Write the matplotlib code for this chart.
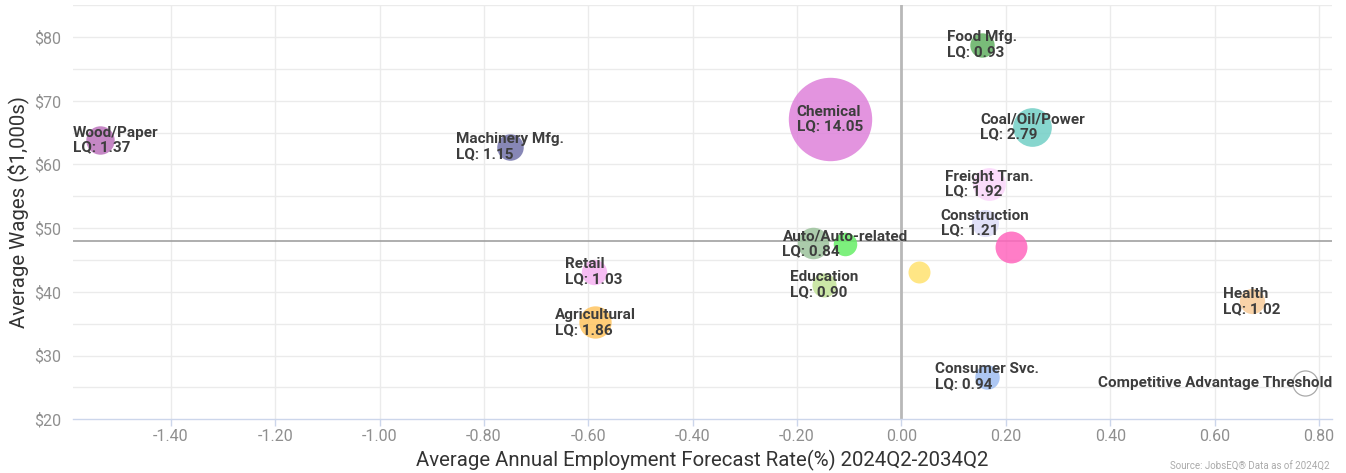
import matplotlib
matplotlib.use("Agg")
import matplotlib.pyplot as plt
import numpy as np

# ---------------- data ----------------
industries = ["Wood/Paper", "Machinery Mfg.", "Chemical", "Food Mfg.", "Coal/Oil/Power",
              "Freight Tran.", "Construction", "", "", "", "Auto/Auto-related",
              "Education", "Retail", "Agricultural", "Health", "Consumer Svc.",
              "Competitive Advantage Threshold"]
growth = [-1.535, -0.751, -0.137, 0.154, 0.251, 0.168, 0.160, 0.209, 0.033, -0.169,
          -0.108, -0.148, -0.590, -0.587, 0.672, 0.163, 0.773]
wages = [63.8, 62.8, 67.1, 78.8, 65.9, 56.9, 50.8, 47.1, 43.1, 47.6,
         47.5, 41.1, 43.2, 35.2, 38.5, 26.7, 25.65]
lq = [1.37, 1.15, 14.05, 0.93, 2.79, 1.92, 1.21, 1.80, 0.70, 1.75,
      0.84, 0.90, 1.03, 1.86, 1.02, 0.94, 1.00]
colors = ["#bb72bb", "#7272aa", "#de82da", "#62b062", "#72cfc6",
          "#fbd6fb", "#dcdcf7", "#ff66bd", "#ffe270", "#9cc29c",
          "#66ee66", "#c3e398", "#f6b2f2", "#ffc561", "#f9cc99", "#9fbef2",
          "#ffffff"]
wage_ref = 48.0
x_ticks = [-1.40, -1.20, -1.00, -0.80, -0.60, -0.40, -0.20, 0.00, 0.20, 0.40, 0.60, 0.80]
y_ticks = [20, 30, 40, 50, 60, 70, 80]

# ---------------- figure ----------------
plt.rcParams['font.family'] = ['Roboto', 'DejaVu Sans']
DPI = 100
fig = plt.figure(figsize=(13.46, 4.73), dpi=DPI)
ax = fig.add_axes([0.054, 0.1135, 0.9356, 0.8755])

ax.set_xlim(-1.588, 0.825)
ax.set_ylim(20, 85)

# grid
for yv in np.arange(25, 86, 5):
    ax.axhline(yv, color="#ebebeb", lw=1.0, zorder=0)
for xv in x_ticks:
    ax.axvline(xv, color="#ebebeb", lw=1.0, zorder=0)

# reference lines
ax.axhline(wage_ref, color="#999999", lw=1.1, zorder=1)
ax.axvline(0, color="#b8b8b8", lw=2.0, zorder=1)

# bubble sizes (area-based scaling, like Highcharts)
z = np.array(lq)
zmin, zmax = z.min(), z.max()
rmin, rmax = 11.0, 41.7  # pixels
pos = (z - zmin) / (zmax - zmin)
r_px = np.sqrt(rmin**2 + pos * (rmax**2 - rmin**2))
sizes = (2 * r_px * 72.0 / DPI) ** 2

for i in range(len(growth)):
    if industries[i] == "Competitive Advantage Threshold":
        ax.scatter(growth[i], wages[i], s=sizes[i], facecolor="white",
                   edgecolor="#aaaaaa", linewidth=0.9, zorder=3)
    else:
        ax.scatter(growth[i], wages[i], s=sizes[i], color=colors[i],
                   alpha=0.85, linewidth=0, zorder=3)

texts = []
for i in range(len(growth)):
    if not industries[i]:
        continue
    if industries[i] == "Competitive Advantage Threshold":
        lab = industries[i]
    else:
        lab = f"{industries[i]}\nLQ: {lq[i]:.2f}"
    t = ax.text(growth[i], wages[i], lab, ha="center", va="center",
                multialignment="left",
                fontsize=11, fontweight="bold", color="#3d3d3d",
                linespacing=1.08, zorder=5)
    texts.append(t)

# axes styling
for sp in ["top", "right", "left"]:
    ax.spines[sp].set_visible(False)
ax.spines["bottom"].set_color("#ccd6eb")
ax.spines["bottom"].set_linewidth(1.0)

ax.set_xticks(x_ticks)
ax.set_xticklabels([f"{v:.2f}" for v in x_ticks])
ax.set_yticks(y_ticks)
ax.set_yticklabels([f"${v}" for v in y_ticks])
ax.tick_params(axis="x", colors="#ccd6eb", length=5, width=1, labelsize=11.5,
               labelcolor="#8f8f8f", pad=2)
ax.tick_params(axis="y", length=0, labelsize=11.5, labelcolor="#8f8f8f", pad=8)

ax.set_xlabel("Average Annual Employment Forecast Rate(%) 2024Q2-2034Q2",
              fontsize=14.7, color="#333333", labelpad=4)
ax.set_ylabel("Average Wages ($1,000s)", fontsize=14.7, color="#333333", labelpad=4)

fig.text(1170 / 1346, 1 - 472 / 473, "Source: JobsEQ\u00ae Data as of 2024Q2",
         fontsize=7, color="#aaaaaa", ha="left", va="bottom")

# keep labels inside plot area
fig.canvas.draw()
r = fig.canvas.get_renderer()
abb = ax.get_window_extent(r)
for t in texts:
    bb = t.get_window_extent(r)
    shift = 0
    if bb.x0 < abb.x0:
        shift = abb.x0 - bb.x0
    elif bb.x1 > abb.x1:
        shift = abb.x1 - bb.x1
    if shift:
        xd, yd = ax.transData.transform(t.get_position())
        t.set_position(ax.transData.inverted().transform((xd + shift, yd)))

fig.savefig("out.png", dpi=DPI)
